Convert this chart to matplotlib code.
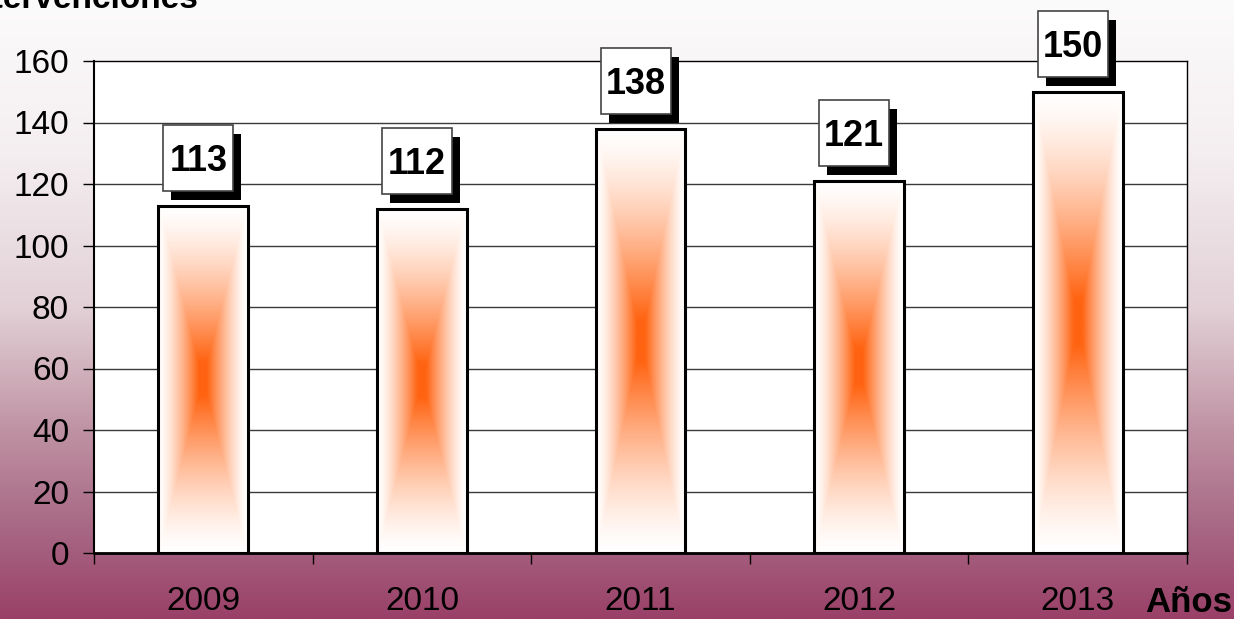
import matplotlib.pyplot as plt
import matplotlib.transforms as mtransforms
from matplotlib.patches import Rectangle
import numpy as np

plt.rcParams['font.family'] = ['Liberation Sans', 'DejaVu Sans']

years = ['2009', '2010', '2011', '2012', '2013']
values = [113, 112, 138, 121, 150]
yticks = [0, 20, 40, 60, 80, 100, 120, 140, 160]

fig = plt.figure(figsize=(12.34, 6.19), dpi=100)

# background gradient, white at top to mauve at bottom
bg = fig.add_axes([0, 0, 1, 1], zorder=-10)
stops = [0.0, 0.25, 0.5, 0.7, 0.85, 1.0]
cols = np.array([[252, 251, 251], [244, 238, 240], [226, 208, 214],
                 [190, 145, 162], [168, 105, 133], [154, 64, 104]]) / 255.0
t = np.linspace(0, 1, 400)
grad = np.stack([np.interp(t, stops, cols[:, k]) for k in range(3)], axis=-1)
bg.imshow(grad[:, None, :], aspect='auto', extent=(0, 1, 0, 1), origin='upper')
bg.axis('off')

ax = fig.add_axes([94/1234, 66/619, (1187-94)/1234, (553-61)/619])
ax.set_facecolor('white')
ax.set_xlim(-0.5, 4.5)
ax.set_ylim(0, 160)

for y in yticks[1:-1]:
    ax.axhline(y, color='#3a3a3a', lw=1, zorder=1)

w = 0.41
xs = np.arange(len(years))

# bar gradient: rectangular "from centre" fill
n = 200
gx = np.linspace(-1, 1, 60)
gy = np.linspace(-1, 1, n)
GX, GY = np.meshgrid(gx, gy)
v = np.maximum(np.abs(GX), np.abs(GY))
inten = np.clip((1 - v) / 0.9, 0, 1) ** 1.4
center = np.array([255, 100, 18]) / 255.0
img = 1 - inten[..., None] * (1 - center)

bars = ax.bar(xs, values, width=w, facecolor='none', edgecolor='black', lw=2.2, zorder=4)
for b in bars:
    x0, h = b.get_x(), b.get_height()
    im = ax.imshow(img, extent=(x0, x0 + w, 0, h), aspect='auto', zorder=3,
                   interpolation='bilinear')
    im.set_clip_path(b)

# value labels with drop shadow
for x, val in zip(xs, values):
    tr = fig.dpi_scale_trans + mtransforms.ScaledTranslation(x, val, ax.transData)
    cx, cy = -0.05, 0.48
    bw, bh = 0.70, 0.66
    ax.add_patch(Rectangle((cx - bw/2 + 0.08, cy - bh/2 - 0.09), bw, bh, transform=tr,
                           facecolor='black', edgecolor='none', zorder=6, clip_on=False))
    ax.add_patch(Rectangle((cx - bw/2, cy - bh/2), bw, bh, transform=tr,
                           facecolor='white', edgecolor='#444444', lw=1.2, zorder=7, clip_on=False))
    ax.text(cx, cy, str(val), transform=tr, ha='center', va='center_baseline',
            fontsize=26, fontweight='bold', zorder=8)

ax.set_yticks(yticks)
ax.set_yticklabels([str(y) for y in yticks], fontsize=24)
ax.tick_params(axis='y', length=8, width=1, pad=10)

ax.set_xticks(np.arange(-0.5, 5, 1))
ax.set_xticklabels([])
ax.tick_params(axis='x', which='major', length=8, width=1)
ax.set_xticks(xs, minor=True)
ax.set_xticklabels(years, minor=True, fontsize=24)
ax.tick_params(axis='x', which='minor', length=0, pad=24)

for s in ['top', 'right']:
    ax.spines[s].set_linewidth(1)
ax.spines['left'].set_linewidth(1.5)
ax.spines['bottom'].set_linewidth(2)

fig.text(199/1234, (619-8)/619, 'Intervenciones', ha='right', va='baseline',
         fontsize=24, fontweight='bold')
fig.text(1232/1234, (619-612)/619, 'Años', ha='right', va='baseline',
         fontsize=25, fontweight='bold')

fig.savefig('out.png', dpi=100)
